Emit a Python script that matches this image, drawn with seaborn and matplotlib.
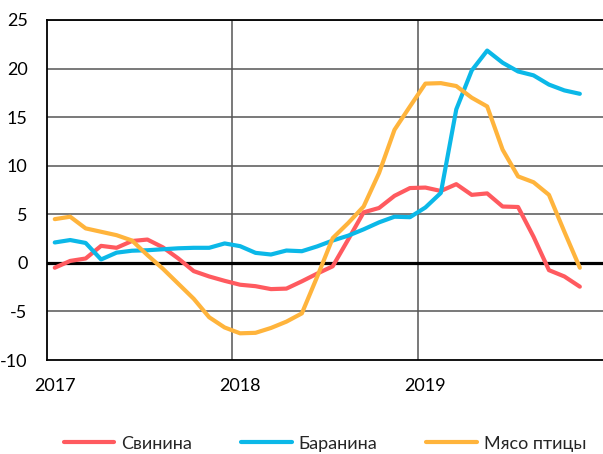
import numpy as np
import pandas as pd
import matplotlib
matplotlib.use("Agg")
import matplotlib.pyplot as plt
import seaborn as sns

# Monthly values, Jan 2017 - Nov 2019
years = ["2017", "2018", "2019"]
pork = [-0.5, 0.2, 0.45, 1.75, 1.55, 2.25, 2.4, 1.6, 0.45, -0.85, -1.4, -1.85,
        -2.25, -2.4, -2.7, -2.65, -1.9, -1.1, -0.35, 2.4, 5.2, 5.65, 6.9, 7.7,
        7.75, 7.4, 8.1, 7.0, 7.15, 5.8, 5.75, 2.7, -0.75, -1.4, -2.45]
lamb = [2.1, 2.35, 2.05, 0.35, 1.05, 1.25, 1.3, 1.4, 1.5, 1.55, 1.55, 2.0,
        1.72, 1.03, 0.86, 1.27, 1.2, 1.7, 2.3, 2.8, 3.45, 4.17, 4.75, 4.7,
        5.7, 7.2, 15.8, 19.8, 21.85, 20.6, 19.7, 19.3, 18.35, 17.75, 17.4]
poultry = [4.5, 4.75, 3.55, 3.2, 2.85, 2.3, 0.8, -0.6, -2.15, -3.7, -5.6, -6.65,
           -7.25, -7.2, -6.7, -6.05, -5.2, -1.4, 2.55, 4.1, 5.8, 9.25, 13.7, 16.1,
           18.45, 18.5, 18.2, 17.0, 16.1, 11.65, 8.9, 8.3, 7.0, 3.2, -0.5]
y_ticks = [-10, -5, 0, 5, 10, 15, 20, 25]
names = ["Свинина", "Баранина", "Мясо птицы"]
colors = ["#FF5A5F", "#0BB8E8", "#FFB43C"]

# длинная таблица для seaborn
month = np.arange(len(pork)) + 0.5
df = pd.DataFrame({
    "month": np.tile(month, 3),
    "value": pork + lamb + poultry,
    "series": np.repeat(names, len(pork)),
})

sns.set_style("white")
plt.rcParams["font.family"] = ["Lato", "Open Sans", "DejaVu Sans"]

fig = plt.figure(figsize=(6.03, 4.54), dpi=100)
ax = fig.add_axes([0.078, 0.207, 0.922, 0.749])

# сетка
for y in y_ticks[1:]:
    if y != 0:
        ax.axhline(y, color="#555555", lw=1.1, zorder=1)
for x in (12, 24):
    ax.axvline(x, color="#555555", lw=1.1, zorder=1)
ax.axhline(0, color="black", lw=2.3, zorder=2)

sns.lineplot(data=df, x="month", y="value", hue="series", hue_order=names,
             palette=colors, lw=3, ax=ax, zorder=3)

ax.set_xlim(0, 36)
ax.set_ylim(-10, 25)
ax.set_yticks(y_ticks)
ax.set_yticklabels([str(v) for v in y_ticks])  # обычный дефис, как в оригинале
ax.set_xticks([0.5, 12.5, 24.5])
ax.set_xticklabels(years)
ax.tick_params(axis="both", length=0, labelsize=13, colors="black")
ax.tick_params(axis="y", pad=14)
ax.tick_params(axis="x", pad=13)
ax.set_xlabel("")
ax.set_ylabel("")

for side in ["left", "top", "bottom"]:
    ax.spines[side].set_color("black")
    ax.spines[side].set_linewidth(1.3)
ax.spines["right"].set_visible(False)

ax.legend(loc="upper center", bbox_to_anchor=(0.5, -0.175), ncol=3, frameon=False,
          fontsize=13, handlelength=2.8, handletextpad=0.4, columnspacing=2.7)

fig.savefig("out.png", dpi=100)
